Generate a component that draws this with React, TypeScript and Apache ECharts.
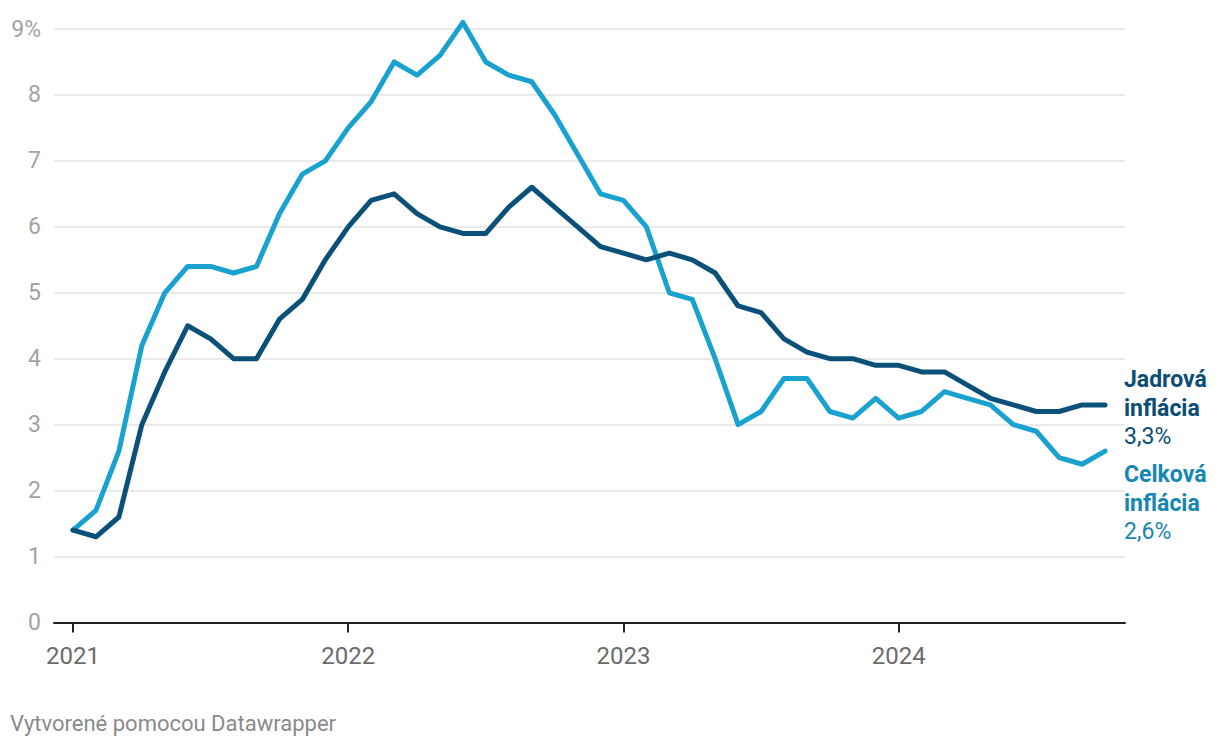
import React, { useEffect, useRef } from "react";
import * as echarts from "echarts";

const yearLabels = ["2021", "2022", "2023", "2024"];
const yearTickIndex = [0, 12, 24, 36];

// Monthly values Jan 2021 – Oct 2024
const headline = [
  1.4, 1.7, 2.6, 4.2, 5.0, 5.4, 5.4, 5.3, 5.4, 6.2, 6.8, 7.0,
  7.5, 7.9, 8.5, 8.3, 8.6, 9.1, 8.5, 8.3, 8.2, 7.7, 7.1, 6.5,
  6.4, 6.0, 5.0, 4.9, 4.0, 3.0, 3.2, 3.7, 3.7, 3.2, 3.1, 3.4,
  3.1, 3.2, 3.5, 3.4, 3.3, 3.0, 2.9, 2.5, 2.4, 2.6,
];
const core = [
  1.4, 1.3, 1.6, 3.0, 3.8, 4.5, 4.3, 4.0, 4.0, 4.6, 4.9, 5.5,
  6.0, 6.4, 6.5, 6.2, 6.0, 5.9, 5.9, 6.3, 6.6, 6.3, 6.0, 5.7,
  5.6, 5.5, 5.6, 5.5, 5.3, 4.8, 4.7, 4.3, 4.1, 4.0, 4.0, 3.9,
  3.9, 3.8, 3.8, 3.6, 3.4, 3.3, 3.2, 3.2, 3.3, 3.3,
];
const coreName = ["Jadrová", "inflácia"];
const headlineName = ["Celková", "inflácia"];
const footer = "Vytvorené pomocou Datawrapper";

const DARK = "#0a5079";
const LIGHT = "#19a2cf";
const DARK_LABEL = "#0b4d75";
const LIGHT_LABEL = "#1687b2";

const fmt = (v: number) => v.toFixed(1).replace(".", ",") + "%";

export default function App() {
  const ref = useRef<HTMLDivElement>(null);
  useEffect(() => {
    if (!ref.current) return;
    const chart = echarts.init(ref.current, undefined, { renderer: "svg" });
    const font = "Roboto, 'Noto Sans', sans-serif";
    const gridLeft = 54;
    const gridRight = 95;
    const gridTop = 29;
    const gridBottom = 748 - 622.5;
    const toPairs = (arr: number[]) => arr.map((v, i) => [i, v]);
    const rich = (c: string) => ({
      b: { fontFamily: font, fontSize: 23, fontWeight: "bold", fill: c, color: c, lineHeight: 28.5 },
      n: { fontFamily: font, fontSize: 23, fontWeight: "normal", fill: c, color: c, lineHeight: 28.5 },
    });
    chart.setOption({
      animation: false,
      backgroundColor: "#ffffff",
      grid: { left: gridLeft, right: gridRight, top: gridTop, bottom: gridBottom, containLabel: false },
      xAxis: {
        type: "value",
        min: -0.83,
        max: 45.87,
        axisLine: { show: true, onZero: false, lineStyle: { color: "#222", width: 2 } },
        axisTick: {
          show: true,
          customValues: yearTickIndex,
          length: 10,
          lineStyle: { color: "#222", width: 2 },
        },
        axisLabel: {
          customValues: yearTickIndex,
          formatter: (v: number) => yearLabels[yearTickIndex.indexOf(Math.round(v))] ?? "",
          color: "#6b6b6b",
          fontFamily: font,
          fontSize: 24,
          margin: 21,
        },
        splitLine: { show: false },
      },
      yAxis: {
        type: "value",
        min: 0,
        max: 9,
        interval: 1,
        axisLine: { show: false },
        axisTick: { show: false },
        axisLabel: {
          formatter: (v: number) => (v === 9 ? "9%" : String(v)),
          color: "#a3a3a3",
          fontFamily: font,
          fontSize: 23,
          margin: 13,
        },
        splitLine: { lineStyle: { color: "#e3e3e3", width: 1.5 } },
      },
      series: [
        {
          type: "line",
          name: "Celková inflácia",
          data: toPairs(headline),
          showSymbol: false,
          clip: false,
          lineStyle: { color: LIGHT, width: 5, cap: "round", join: "round" },
          z: 2,
        },
        {
          type: "line",
          name: "Jadrová inflácia",
          data: toPairs(core),
          showSymbol: false,
          clip: false,
          lineStyle: { color: DARK, width: 5, cap: "round", join: "round" },
          z: 3,
        },
      ],
      graphic: [
        {
          type: "text",
          left: 1124,
          top: 368,
          style: {
            text: `{b|${coreName[0]}}\n{b|${coreName[1]}}\n{n|${fmt(core[core.length - 1])}}`,
            fill: DARK_LABEL,
            rich: rich(DARK_LABEL),
          },
        },
        {
          type: "text",
          left: 1124,
          top: 463,
          style: {
            text: `{b|${headlineName[0]}}\n{b|${headlineName[1]}}\n{n|${fmt(headline[headline.length - 1])}}`,
            fill: LIGHT_LABEL,
            rich: rich(LIGHT_LABEL),
          },
        },
        {
          type: "text",
          left: 10,
          top: 712,
          style: { text: footer, fontFamily: font, fontSize: 22, fill: "#8a8a8a" },
        },
      ],
    });
    return () => chart.dispose();
  }, []);
  return <div ref={ref} style={{ width: 1220, height: 748, position: "absolute", left: 0, top: 0 }} />;
}
